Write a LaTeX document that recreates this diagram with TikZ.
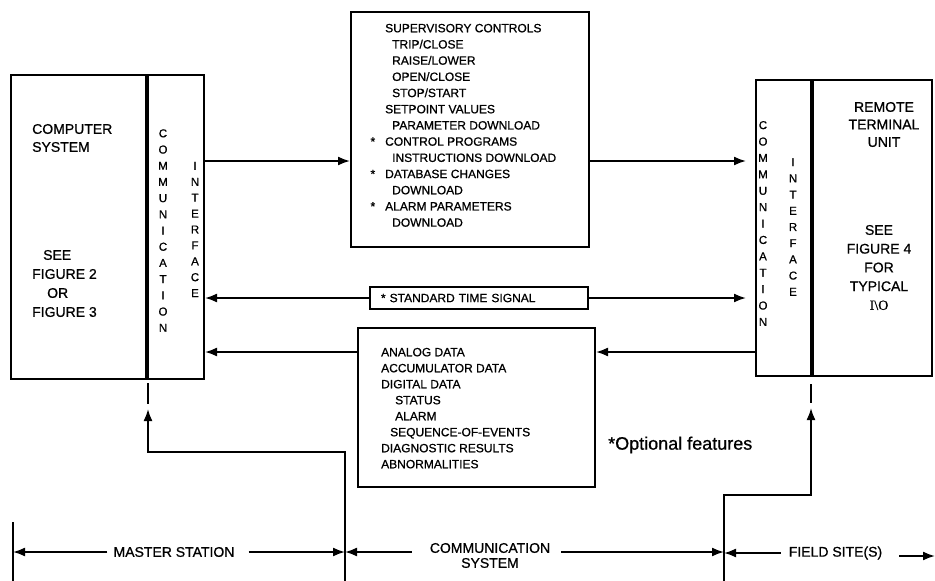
\documentclass[tikz,border=0pt]{standalone}
\usepackage{fontspec}
\setmainfont{Liberation Sans}[FakeBold=0.8]
\newfontfamily\ioserif{Liberation Serif}[FakeBold=0.8]
\usetikzlibrary{arrows.meta}

\begin{document}
\begin{tikzpicture}[x=1pt,y=-1pt,>={Latex[length=12pt,width=9pt]}]
\tikzset{
  panel/.style={draw,line width=2pt,inner sep=0pt},
  divider/.style={line width=4pt},
  flow/.style={->,line width=1.8pt},
  rule/.style={line width=1.8pt},
  label14/.style={font=\fontsize{14}{18}\selectfont,inner sep=0pt},
  list12/.style={font=\fontsize{12}{16.2}\selectfont,align=left,inner sep=0pt},
  spelled/.style={font=\fontsize{11.5}{16.2}\selectfont,align=center,inner sep=0pt}
}
\useasboundingbox (0,0) rectangle (935,581);

% master station side
\node[panel,minimum width=135,minimum height=304] (cs) at (78.5,227) {};
\node[panel,minimum width=58,minimum height=304] (ci) at (175,227) {};
\draw[divider] (cs.north east) -- (cs.south east);
\node[label14,align=left,anchor=west] (cstitle) at (32,138) {COMPUTER\\SYSTEM};
\node[label14,align=left,anchor=west,font=\fontsize{14}{19}\selectfont] (csref) at (32,283.5)
  {\hspace*{11pt}SEE\\FIGURE 2\\\hspace*{15pt}OR\\FIGURE 3};
\node[spelled] (cicomm) at (163,230.5) {C\\O\\M\\M\\U\\N\\I\\C\\A\\T\\I\\O\\N};
\node[spelled,font=\fontsize{11.5}{15.9}\selectfont] (ciint) at (195,229.5) {I\\N\\T\\E\\R\\F\\A\\C\\E};

% field side
\node[panel,minimum width=57,minimum height=296] (ri) at (784.5,228) {};
\node[panel,minimum width=119,minimum height=296] (rtu) at (872.5,228) {};
\draw[divider] (rtu.north west) -- (rtu.south west);
\node[spelled,font=\fontsize{11.5}{16.4}\selectfont] (ricomm) at (763,223.5) {C\\O\\M\\M\\U\\N\\I\\C\\A\\T\\I\\O\\N};
\node[spelled] (riint) at (793,227) {I\\N\\T\\E\\R\\F\\A\\C\\E};
\node[label14,align=center,font=\fontsize{14}{17.5}\selectfont] (rtutitle) at (884,124.5) {REMOTE\\TERMINAL\\UNIT};
\node[label14,align=center,font=\fontsize{14}{18.75}\selectfont] (rturef) at (879,267.5)
  {SEE\\FIGURE 4\\FOR\\TYPICAL\\{\ioserif I\textbackslash O}};

% messages
\node[panel,minimum width=238,minimum height=235] (sup) at (470,129.5) {};
\node[list12,anchor=north west] (suplist) at (385,23.7) {SUPERVISORY CONTROLS\\
  \hspace*{7pt}TRIP/CLOSE\\
  \hspace*{7pt}RAISE/LOWER\\
  \hspace*{7pt}OPEN/CLOSE\\
  \hspace*{7pt}STOP/START\\
  SETPOINT VALUES\\
  \hspace*{7pt}PARAMETER DOWNLOAD\\
  \llap{*\hspace{10pt}}CONTROL PROGRAMS\\
  \hspace*{7pt}INSTRUCTIONS DOWNLOAD\\
  \llap{*\hspace{10pt}}DATABASE CHANGES\\
  \hspace*{7pt}DOWNLOAD\\
  \llap{*\hspace{10pt}}ALARM PARAMETERS\\
  \hspace*{7pt}DOWNLOAD};
\node[panel,minimum width=218,minimum height=22,text width=196,align=left,inner xsep=11pt,
  font=\fontsize{12}{14}\selectfont] (tsig) at (479,298) {* STANDARD TIME SIGNAL};
\node[panel,minimum width=237,minimum height=159] (data) at (476.5,407.5) {};
\node[list12,anchor=north west,font=\fontsize{12}{16}\selectfont] (datalist) at (381,347.7) {ANALOG DATA\\
  ACCUMULATOR DATA\\
  DIGITAL DATA\\
  \hspace*{14pt}STATUS\\
  \hspace*{14pt}ALARM\\
  \hspace*{9pt}SEQUENCE-OF-EVENTS\\
  DIAGNOSTIC RESULTS\\
  ABNORMALITIES};
\node[font=\fontsize{18}{20}\selectfont,anchor=west,inner sep=0pt] (optnote) at (608,445) {*Optional features};

\coordinate (cmdrow) at (0,161);
\coordinate (datarow) at (0,352);
\draw[flow] (ci.east |- cmdrow) -- (sup.west |- cmdrow);
\draw[flow,shorten >=9pt] (sup.east |- cmdrow) -- (ri.west |- cmdrow);
\draw[flow] (tsig.west) -- (tsig.west -| ci.east);
\draw[flow,shorten >=9pt] (tsig.east) -- (tsig.east -| ri.west);
\draw[flow] (data.west |- datarow) -- (ci.east |- datarow);
\draw[flow] (ri.west |- datarow) -- (data.east |- datarow);

% links into the stations
\coordinate (leftfoot) at (345,581);
\coordinate (leftbend) at (345,452);
\coordinate (rightfoot) at (724,581);
\coordinate (rightbend) at (724,495);
\draw[rule] ([xshift=1pt,yshift=-3pt]cs.south east) -- ++(0,21);
\draw[flow] (leftfoot) -- (leftbend) -| ([xshift=1pt,yshift=-29pt]cs.south east);
\draw[rule] ([xshift=-1pt,yshift=-7pt]rtu.south west) -- ++(0,19);
\draw[flow] (rightfoot) -- (rightbend) -| ([xshift=-1pt,yshift=-31pt]rtu.south west);

% extent of each part
\coordinate (edgetop) at (13,522);
\coordinate (edgefoot) at (13,581);
\coordinate (dimrow) at (0,552);
\coordinate (sitetip) at (935,556);
\draw[rule] (edgetop) -- (edgefoot);
\node[label14] (msta) at (174,552) {MASTER STATION};
\node[label14,align=center,font=\fontsize{14}{15}\selectfont] (csys) at (490,555.5) {COMMUNICATION\\SYSTEM};
\node[label14] (fsite) at (835.5,553) {FIELD SITE(S)};
\draw[flow,shorten <=6pt] (msta.west) -- (msta.west -| edgetop);
\draw[flow,shorten <=14pt] (msta.east) -- (msta.east -| leftfoot);
\draw[flow,shorten <=18pt] (csys.west |- dimrow) -- (leftfoot |- dimrow);
\draw[flow,shorten <=11pt] (csys.east |- dimrow) -- (rightfoot |- dimrow);
\draw[flow,shorten <=8pt] (fsite.west) -- (fsite.west -| rightfoot);
\draw[flow,shorten <=17pt] (fsite.east |- sitetip) -- (sitetip);
\end{tikzpicture}
\end{document}
